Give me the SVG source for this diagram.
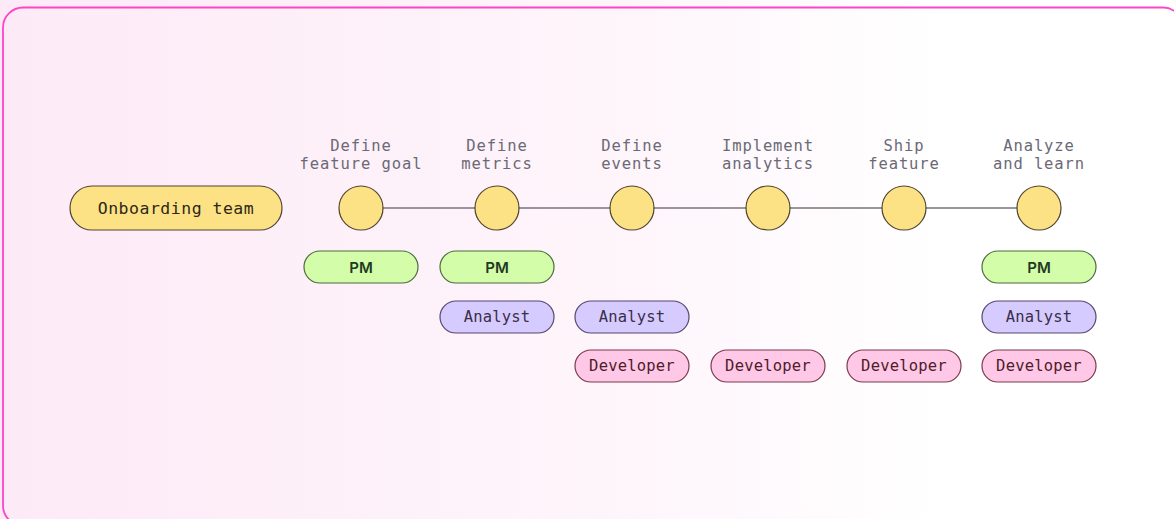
<svg xmlns="http://www.w3.org/2000/svg" width="1174" height="519" viewBox="0 0 1174 519">
  <defs>
    <linearGradient id="bg" x1="0" y1="0" x2="1" y2="0">
      <stop offset="0" stop-color="#fdeaf7"/>
      <stop offset="0.55" stop-color="#fef6fb"/>
      <stop offset="0.8" stop-color="#ffffff"/>
      <stop offset="1" stop-color="#ffffff"/>
    </linearGradient>
    <style>
      .frame { fill: url(#bg); stroke: #ff45c6; stroke-width: 1.8; }
      .step-label { font-family: "DejaVu Sans Mono", "Liberation Mono", monospace; font-size: 15.5px; letter-spacing: 0.9px; fill: #6b6975; text-anchor: middle; }
      .dot { fill: #fde285; stroke: #4f4530; stroke-width: 1.2; }
      .team { fill: #fde285; stroke: #4f4530; stroke-width: 1.2; }
      .team-text { font-family: "DejaVu Sans Mono", "Liberation Mono", monospace; font-size: 16.5px; letter-spacing: 0.5px; fill: #2e2818; text-anchor: middle; }
      .pill { stroke-width: 1.2; }
      .pm { fill: #d3fda9; stroke: #4b6b3c; }
      .analyst { fill: #d6cbff; stroke: #55476f; }
      .dev { fill: #ffc8e6; stroke: #7b3a4c; }
      .pm-text { font-family: Inter, "Liberation Sans", sans-serif; font-weight: 600; font-size: 15px; fill: #1f3a22; text-anchor: middle; }
      .analyst-text { font-family: "DejaVu Sans Mono", "Liberation Mono", monospace; font-size: 15.5px; letter-spacing: 0.2px; fill: #3a2f48; text-anchor: middle; }
      .dev-text { font-family: "DejaVu Sans Mono", "Liberation Mono", monospace; font-size: 15.5px; letter-spacing: 0.2px; fill: #4e1c2a; text-anchor: middle; }
      .timeline { stroke: #77757c; stroke-width: 1.5; fill: none; }
    </style>
  </defs>

  <!-- page and outer frame -->
  <rect x="0" y="0" width="1174" height="519" fill="url(#bg)"/>
  <rect class="frame" x="3" y="7.5" width="1180" height="518" rx="20"/>

  <!-- timeline connector -->
  <g id="connectors">
    <line class="timeline" x1="383" y1="208" x2="1017" y2="208"/>
  </g>

  <!-- team -->
  <g id="team">
    <rect class="team" x="70" y="186" width="212" height="44" rx="22"/>
    <text class="team-text" x="176" y="214">Onboarding team</text>
  </g>

  <!-- steps -->
  <g id="step-goal">
    <text class="step-label" x="361" y="151">Define</text>
    <text class="step-label" x="361" y="169">feature goal</text>
    <circle class="dot" cx="361" cy="208" r="22"/>
  </g>
  <g id="step-metrics">
    <text class="step-label" x="497" y="151">Define</text>
    <text class="step-label" x="497" y="169">metrics</text>
    <circle class="dot" cx="497" cy="208" r="22"/>
  </g>
  <g id="step-events">
    <text class="step-label" x="632" y="151">Define</text>
    <text class="step-label" x="632" y="169">events</text>
    <circle class="dot" cx="632" cy="208" r="22"/>
  </g>
  <g id="step-implement">
    <text class="step-label" x="768" y="151">Implement</text>
    <text class="step-label" x="768" y="169">analytics</text>
    <circle class="dot" cx="768" cy="208" r="22"/>
  </g>
  <g id="step-ship">
    <text class="step-label" x="904" y="151">Ship</text>
    <text class="step-label" x="904" y="169">feature</text>
    <circle class="dot" cx="904" cy="208" r="22"/>
  </g>
  <g id="step-analyze">
    <text class="step-label" x="1039" y="151">Analyze</text>
    <text class="step-label" x="1039" y="169">and learn</text>
    <circle class="dot" cx="1039" cy="208" r="22"/>
  </g>

  <!-- roles: PM -->
  <g id="pm-goal">
    <rect class="pill pm" x="304" y="251" width="114" height="32" rx="16"/>
    <text class="pm-text" x="361" y="272.5">PM</text>
  </g>
  <g id="pm-metrics">
    <rect class="pill pm" x="440" y="251" width="114" height="32" rx="16"/>
    <text class="pm-text" x="497" y="272.5">PM</text>
  </g>
  <g id="pm-analyze">
    <rect class="pill pm" x="982" y="251" width="114" height="32" rx="16"/>
    <text class="pm-text" x="1039" y="272.5">PM</text>
  </g>

  <!-- roles: Analyst -->
  <g id="analyst-metrics">
    <rect class="pill analyst" x="440" y="301" width="114" height="32" rx="16"/>
    <text class="analyst-text" x="497" y="322">Analyst</text>
  </g>
  <g id="analyst-events">
    <rect class="pill analyst" x="575" y="301" width="114" height="32" rx="16"/>
    <text class="analyst-text" x="632" y="322">Analyst</text>
  </g>
  <g id="analyst-analyze">
    <rect class="pill analyst" x="982" y="301" width="114" height="32" rx="16"/>
    <text class="analyst-text" x="1039" y="322">Analyst</text>
  </g>

  <!-- roles: Developer -->
  <g id="dev-events">
    <rect class="pill dev" x="575" y="350" width="114" height="32" rx="16"/>
    <text class="dev-text" x="632" y="371">Developer</text>
  </g>
  <g id="dev-implement">
    <rect class="pill dev" x="711" y="350" width="114" height="32" rx="16"/>
    <text class="dev-text" x="768" y="371">Developer</text>
  </g>
  <g id="dev-ship">
    <rect class="pill dev" x="847" y="350" width="114" height="32" rx="16"/>
    <text class="dev-text" x="904" y="371">Developer</text>
  </g>
  <g id="dev-analyze">
    <rect class="pill dev" x="982" y="350" width="114" height="32" rx="16"/>
    <text class="dev-text" x="1039" y="371">Developer</text>
  </g>
</svg>
